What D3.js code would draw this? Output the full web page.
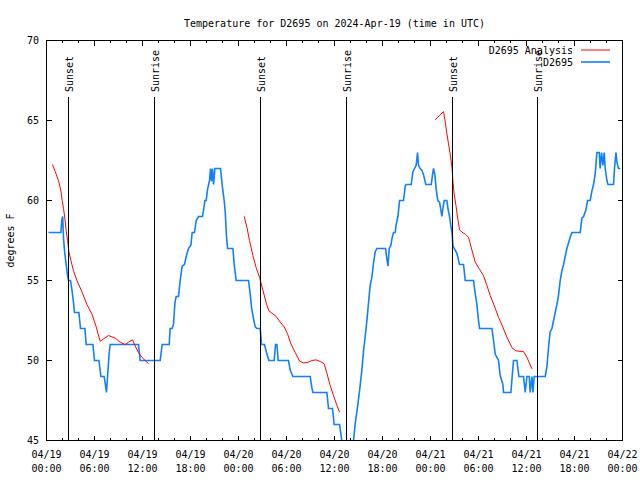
<!DOCTYPE html>
<html><head><meta charset="utf-8">
<script src="https://cdn.jsdelivr.net/npm/d3@7"></script>
<style>
body{margin:0;background:#fff}
svg text{font-family:"DejaVu Sans Mono","Liberation Mono",monospace;font-size:10px;fill:#000}
</style>
</head><body>
<svg id="chart" width="640" height="480"></svg>
<script>
// ---- data (hours after 2024-04-19 00:00 UTC) ----
const titleText = "Temperature for D2695 on 2024-Apr-19 (time in UTC)";
const yLabel = "degrees F";
const yTicks = [45, 50, 55, 60, 65, 70];

const obsHours = [0.25,1.8,1.92,2.02,2.13,2.25,2.38,2.63,2.75,3.0,3.21,3.38,3.5,4.05,4.25,4.8,4.96,5.8,6.0,6.55,6.8,7.21,7.5,7.63,7.84,7.96,11.5,11.71,14.21,14.46,15.34,15.45,15.71,15.88,16.05,16.21,16.5,16.71,16.96,17.25,17.46,17.75,18.05,18.21,18.5,18.71,19.0,19.5,19.63,19.8,19.96,20.13,20.38,20.5,20.63,20.75,20.88,21.05,21.75,22.0,22.21,22.34,22.5,22.63,23.3,23.46,23.71,25.25,25.46,25.63,25.88,26.09,26.3,26.71,26.88,27.25,27.55,27.8,28.46,28.63,28.8,28.96,30.25,30.46,30.8,32.96,33.17,33.3,35.05,35.25,35.75,35.96,36.63,36.8,36.92,37.1,37.5,37.9,38.2,38.38,38.59,38.88,39.13,39.42,39.63,39.84,40.05,40.25,40.46,40.67,40.88,41.09,41.3,42.38,42.55,42.68,42.84,43.05,43.21,43.38,43.59,43.71,43.93,44.13,44.63,44.84,44.96,45.59,45.8,46.0,46.21,46.38,46.5,46.71,46.92,47.13,47.42,48.09,48.25,48.38,48.55,48.71,48.92,49.13,49.3,49.42,49.55,49.71,50.05,50.18,50.38,50.55,50.71,50.8,50.96,51.3,51.63,52.13,52.34,53.38,53.59,53.8,54.0,54.13,55.68,55.88,56.09,56.5,56.71,57.05,57.13,58.05,58.21,58.38,58.8,59.05,59.63,59.84,60.05,60.34,60.46,60.68,60.8,60.96,62.34,62.55,62.75,62.96,63.18,63.38,63.59,63.8,64.0,64.21,64.42,64.63,64.84,65.05,65.46,65.68,66.71,66.93,67.13,67.42,67.63,67.96,68.18,68.38,68.59,68.8,69.09,69.21,69.38,69.55,69.71,69.84,70.05,70.18,70.88,71.0,71.18,71.3,71.5,71.71];
const obsTemps = [58,58,58.8,59,57.6,56.9,56.3,55.3,55,55,54.3,53.6,53,53,52,52,51,51,50,50,49,49,48,49,50.5,51,51,50,50,51,51,52,52,52.3,53.6,54,54,55,55.9,56,56.5,57,57.2,58,58,58.75,59,59,59.4,60,60,60.7,61.25,62,61.2,62,61,62,62,60.8,60,59.3,57.75,57,57,56,55,55,54.2,53.3,52.6,52.1,52,52,51,51,50.4,50,50,51,51,50,50,49.4,49,49,48.3,48,48,47,47,46,46,45.4,45,44.3,44,44,44.5,45,46.06,47.1,48.1,49.4,50.6,51.5,52.5,53.6,54.7,55.2,56.1,56.8,57,57,56.35,55.9,57,57.2,57.7,58,58,58.5,59,60,60,60.9,61,61,61.8,62,62.2,63,62.2,62,61.9,61.6,61,61,61.6,62,61.6,60.7,60,59.9,59.4,59,59.5,60,60,59.5,59,58.4,57.9,57.2,57,56.7,56,56,55,55,54.2,53.5,52.5,52,52,51.25,50.4,50,49.06,48.5,48,48,49,50,50,49,49,48,49,49,48,49,48,49,49,49.6,50.8,51.8,52,52.5,53,53.5,54.06,55,55.6,56,56.5,57,57.7,58,58,58.9,59,59.4,60,60,60.6,61,61.7,63,63,62,63,62.2,63,62,61.25,61,61,62,63,62.4,62,62];

// analysis series; null marks a gap between runs
const analysisHours = [0.75,1.09,1.5,1.8,1.96,2.13,2.3,2.46,2.63,2.8,3.05,3.38,3.8,4.43,5.05,5.68,6.21,6.71,7.13,7.75,8.59,9.21,9.84,10.25,10.75,11.09,11.5,11.93,12.34,12.75,
  null,
  24.71,25.05,25.38,25.8,26.21,26.63,27.05,27.46,27.8,28.18,28.71,29.21,29.71,30.13,30.55,31.09,31.63,32.13,32.75,33.18,33.68,34.21,34.71,35.05,35.46,35.88,36.3,36.63,
  null,
  48.59,49.63,49.84,50.05,50.25,50.46,50.68,50.8,50.96,51.18,51.38,51.63,51.93,52.34,52.75,53.18,53.59,54.13,54.63,55.05,55.46,55.96,56.5,57.05,57.55,58.18,58.68,59.63,60.05,60.68];
const analysisTemps = [62.25,61.8,61.25,60.6,60,59.5,58.85,58.1,57.5,56.8,56.25,55.6,55,54.3,53.5,52.9,52.1,51.2,51.35,51.56,51.4,51.14,51,51.14,51.3,50.9,50.5,50.2,50,49.8,
  null,
  59.0,58.33,57.5,56.56,55.8,55.2,54.4,53.6,53.1,52.96,52.75,52.4,52.1,51.67,51.04,50.5,49.96,49.85,49.9,50,50.04,49.94,49.8,49.2,48.44,47.8,47.2,46.77,
  null,
  65.04,65.56,64.9,64.17,63.54,62.9,62.1,61.25,60.4,59.7,58.96,58.17,58.02,57.9,57.7,56.9,56.15,55.7,55.3,54.7,54.06,53.44,52.7,52.08,51.46,50.8,50.6,50.56,50.2,49.48];

const sunsetHours = [2.75, 26.77, 50.77];
const sunriseHours = [13.5, 37.5, 61.4];
const seriesNames = ["D2695 Analysis", "D2695"];

// ---- chart ----
const W = 640, H = 480;
const M = {left: 46.5, right: 622.5, top: 40.5, bottom: 440.5};
const t0 = Date.UTC(2024, 3, 19);
const toDate = h => new Date(t0 + h * 3600e3);

const svg = d3.select("#chart");
const x = d3.scaleUtc().domain([toDate(0), toDate(72)]).range([M.left, M.right]);
const y = d3.scaleLinear().domain([45, 70]).range([M.bottom, M.top]);

svg.append("defs").append("clipPath").attr("id", "clip")
  .append("rect").attr("x", M.left).attr("y", M.top)
  .attr("width", M.right - M.left).attr("height", M.bottom - M.top);

// title
svg.append("text").attr("x", (M.left + M.right) / 2).attr("y", 27)
  .attr("text-anchor", "middle").text(titleText);

// y label
svg.append("text").attr("transform", `translate(14,${(M.top + M.bottom) / 2}) rotate(-90)`)
  .attr("text-anchor", "middle").text(yLabel);

// ticks
const majorTicks = x.ticks(d3.utcHour.every(6));
const minorTicks = x.ticks(d3.utcHour.every(2)).filter(d => d.getUTCHours() % 6 !== 0);
const tg = svg.append("g").attr("stroke", "#000").attr("stroke-width", 1).attr("shape-rendering", "crispEdges");
majorTicks.forEach(d => {
  const xx = Math.round(x(d) - 0.5) + 0.5;
  tg.append("line").attr("x1", xx).attr("x2", xx).attr("y1", M.bottom).attr("y2", M.bottom - 5);
  tg.append("line").attr("x1", xx).attr("x2", xx).attr("y1", M.top).attr("y2", M.top + 5);
});
minorTicks.forEach(d => {
  const xx = Math.round(x(d) - 0.5) + 0.5;
  tg.append("line").attr("x1", xx).attr("x2", xx).attr("y1", M.bottom).attr("y2", M.bottom - 2.5);
  tg.append("line").attr("x1", xx).attr("x2", xx).attr("y1", M.top).attr("y2", M.top + 2.5);
});
yTicks.forEach(v => {
  const yy = Math.round(y(v) - 0.5) + 0.5;
  tg.append("line").attr("x1", M.left).attr("x2", M.left + 5).attr("y1", yy).attr("y2", yy);
  tg.append("line").attr("x1", M.right).attr("x2", M.right - 5).attr("y1", yy).attr("y2", yy);
});

// tick labels
const fmtD = d3.utcFormat("%m/%d"), fmtT = d3.utcFormat("%H:%M");
majorTicks.forEach(d => {
  const t = svg.append("text").attr("text-anchor", "middle");
  t.append("tspan").attr("x", x(d)).attr("y", 458).text(fmtD(d));
  t.append("tspan").attr("x", x(d)).attr("y", 472).text(fmtT(d));
});
yTicks.forEach(v => {
  svg.append("text").attr("x", 39).attr("y", y(v) + 3.5).attr("text-anchor", "end").text(v);
});

// data lines
const plot = svg.append("g").attr("clip-path", "url(#clip)");
const obs = obsHours.map((h, i) => [h, obsTemps[i]]);
const ana = analysisHours.map((h, i) => [h, analysisTemps[i]]);
const line = d3.line().defined(d => d[0] !== null && d[1] !== null)
  .x(d => x(toDate(d[0]))).y(d => y(d[1]));

plot.append("path").datum(obs).attr("d", line).attr("fill", "none")
  .attr("stroke", "#1080ff").attr("stroke-width", 1.6).attr("stroke-linejoin", "miter");
plot.append("path").datum(ana).attr("d", line).attr("fill", "none")
  .attr("stroke", "#ff0000").attr("stroke-width", 1);

// sun lines
const sun = sunsetHours.map(h => ({h, label: "Sunset"}))
  .concat(sunriseHours.map(h => ({h, label: "Sunrise"})));
sun.forEach(s => {
  const xx = Math.round(x(toDate(s.h)) - 0.5) + 0.5;
  svg.append("line").attr("x1", xx).attr("x2", xx).attr("y1", 97).attr("y2", M.bottom)
    .attr("stroke", "#000").attr("stroke-width", 1).attr("shape-rendering", "crispEdges");
  svg.append("text").attr("transform", `translate(${xx + 4},92) rotate(-90)`)
    .attr("text-anchor", "start").text(s.label);
});

// border
svg.append("rect").attr("x", M.left).attr("y", M.top)
  .attr("width", M.right - M.left).attr("height", M.bottom - M.top)
  .attr("fill", "none").attr("stroke", "#000").attr("stroke-width", 1).attr("shape-rendering", "crispEdges");

// legend
const legColors = ["#ff0000", "#1080ff"];
seriesNames.forEach((n, i) => {
  const ly = 50 + i * 12;
  svg.append("text").attr("x", 573).attr("y", ly + 3.5).attr("text-anchor", "end").text(n);
  svg.append("line").attr("x1", 581).attr("x2", 610).attr("y1", ly).attr("y2", ly)
    .attr("stroke", legColors[i]).attr("stroke-width", i === 0 ? 1 : 1.6);
});
</script>
</body></html>
